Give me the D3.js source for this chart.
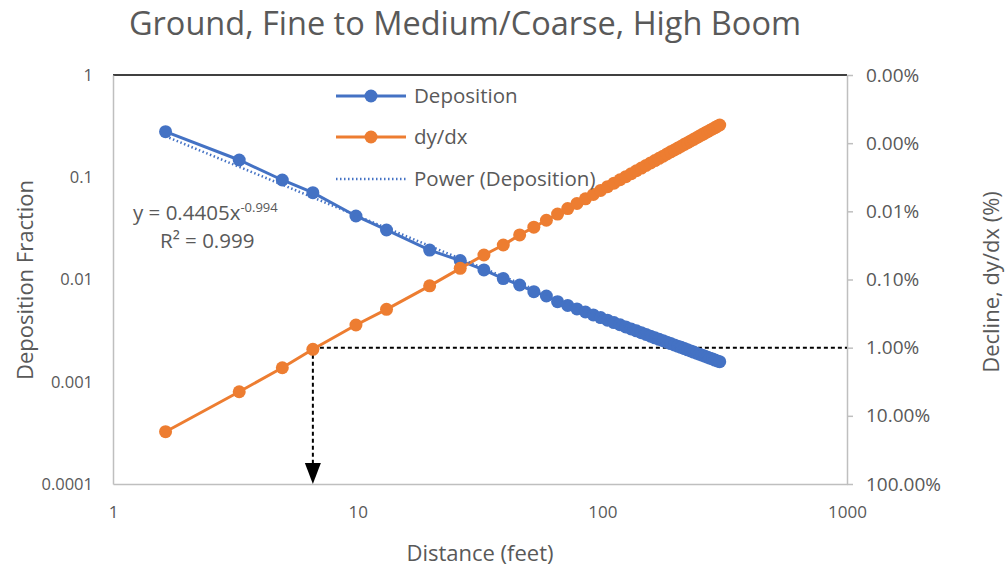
<!DOCTYPE html>
<html>
<head>
<meta charset="utf-8">
<script src="https://cdn.jsdelivr.net/npm/d3@7"></script>
<style>
  html, body { margin: 0; padding: 0; background: #fff; }
  svg { display: block; font-family: "Open Sans", "Noto Sans", sans-serif; }
</style>
</head>
<body>
<svg id="chart" width="1005" height="570"></svg>
<script>
// ---------------- data ----------------
const distance = [1.64, 3.28, 4.92, 6.56, 9.84, 13.12,
  19.69, 26.25, 32.81, 39.37, 45.93, 52.49, 59.06, 65.62, 72.18, 78.74,
  85.30, 91.86, 98.43, 104.99, 111.55, 118.11, 124.67, 131.23, 137.80, 144.36,
  150.92, 157.48, 164.04, 170.60, 177.17, 183.73, 190.29, 196.85, 203.41, 209.97,
  216.54, 223.10, 229.66, 236.22, 242.78, 249.34, 255.91, 262.47, 269.03, 275.59,
  282.15, 288.71, 295.28, 301.84];

const deposition = [0.279, 0.1475, 0.094, 0.0707, 0.0418, 0.0305,
  0.0194, 0.0153, 0.0124, 0.0102, 0.00883, 0.0076, 0.0069, 0.00607, 0.00558, 0.00516,
  0.00481, 0.00450, 0.00424, 0.00400, 0.00379, 0.00361, 0.00344, 0.00328, 0.00315, 0.00302,
  0.00290, 0.00279, 0.00269, 0.00260, 0.00252, 0.00244, 0.00236, 0.00229, 0.00223, 0.00217,
  0.00211, 0.00205, 0.00200, 0.00195, 0.00190, 0.00186, 0.00182, 0.00178, 0.00174, 0.00170,
  0.00167, 0.00163, 0.00160, 0.00157];

const dydx = [0.171, 0.0443, 0.0197, 0.01057, 0.00465, 0.00274,
  0.00124, 0.000686, 0.000437, 0.000312, 0.000222, 0.0001706, 0.0001352, 0.0001098, 0.0000910, 0.0000767,
  0.0000655, 0.0000566, 0.0000494, 0.0000435, 0.0000386, 0.0000344, 0.0000310, 0.0000280, 0.0000254, 0.0000232,
  0.0000212, 0.0000195, 0.0000180, 0.0000167, 0.0000155, 0.0000144, 0.0000134, 0.0000126, 0.0000118, 0.0000111,
  0.0000104, 0.00000982, 0.00000928, 0.00000877, 0.00000831, 0.00000788, 0.00000749, 0.00000712, 0.00000679, 0.00000647,
  0.00000618, 0.00000591, 0.00000565, 0.00000541];

// power trendline of deposition: y = a * x^b
const trendA = 0.4405;
const trendB = -0.994;
const trendR2 = "0.999";

const xTicks = [1, 10, 100, 1000];
const xTickLabels = ["1", "10", "100", "1000"];
const yLeftTicks = [1, 0.1, 0.01, 0.001, 0.0001];
const yLeftTickLabels = ["1", "0.1", "0.01", "0.001", "0.0001"];
const yRightTicks = [1e-6, 1e-5, 1e-4, 1e-3, 1e-2, 1e-1, 1];

// reference (annotation) point: distance & decline
const refDistance = 6.56;
const refDecline = 0.01;

const title = "Ground, Fine to Medium/Coarse, High Boom";
const seriesNames = ["Deposition", "dy/dx", "Power (Deposition)"];

// ---------------- layout ----------------
const BLUE = "#4472C4", ORANGE = "#ED7D31", TXT = "#595959", AXIS = "#BFBFBF";
const L = 113, R = 847, T = 75, B = 484;

const svg = d3.select("#chart");

const x = d3.scaleLog().domain([1, 1000]).range([L, R]);
const yL = d3.scaleLog().domain([1e-4, 1]).range([B, T]);
const yR = d3.scaleLog().domain([1, 1e-6]).range([B, T]);

// title
svg.append("text").attr("x", 465).attr("y", 35)
  .attr("text-anchor", "middle").attr("fill", TXT)
  .attr("font-size", 32.5).text(title);

// top border line
svg.append("line").attr("x1", L).attr("x2", R).attr("y1", T).attr("y2", T)
  .attr("stroke", "#000").attr("stroke-width", 1.3);

// bottom axis
const gx = svg.append("g").attr("transform", `translate(0,${B})`)
  .call(d3.axisBottom(x).tickValues(xTicks)
    .tickFormat(d => xTickLabels[xTicks.indexOf(d)]).tickSize(0).tickPadding(22));
gx.select(".domain").attr("stroke", AXIS).attr("stroke-width", 1.5);
gx.selectAll("text").attr("fill", TXT).attr("font-size", 17).attr("font-family", "Open Sans");

// left axis
const gyl = svg.append("g").attr("transform", `translate(${L},0)`)
  .call(d3.axisLeft(yL).tickValues(yLeftTicks)
    .tickFormat(d => yLeftTickLabels[yLeftTicks.indexOf(d)]).tickSize(0).tickPadding(20));
gyl.select(".domain").attr("stroke", AXIS).attr("stroke-width", 1.5);
gyl.selectAll("text").attr("fill", TXT).attr("font-size", 16.5).attr("font-family", "Open Sans");

// right axis
const gyr = svg.append("g").attr("transform", `translate(${R},0)`)
  .call(d3.axisRight(yR).tickValues(yRightTicks)
    .tickFormat(d3.format(".2%")).tickSize(6).tickSizeOuter(0).tickPadding(13));
gyr.select(".domain").attr("stroke", AXIS).attr("stroke-width", 1.5);
gyr.selectAll(".tick line").attr("stroke", AXIS).attr("stroke-width", 1.5);
gyr.selectAll("text").attr("fill", TXT).attr("font-size", 19).attr("font-family", "Open Sans");

// axis titles
svg.append("text").attr("transform", `translate(33,280) rotate(-90)`)
  .attr("text-anchor", "middle").attr("fill", TXT).attr("font-size", 22)
  .text("Deposition Fraction");
svg.append("text").attr("transform", `translate(999,282) rotate(-90)`)
  .attr("text-anchor", "middle").attr("fill", TXT).attr("font-size", 22)
  .text("Decline, dy/dx (%)");
svg.append("text").attr("x", 480).attr("y", 561)
  .attr("text-anchor", "middle").attr("fill", TXT).attr("font-size", 22)
  .text("Distance (feet)");

// annotation dashed lines
const ax = x(refDistance), ay = yR(refDecline);
svg.append("line").attr("x1", ax).attr("x2", R).attr("y1", ay).attr("y2", ay)
  .attr("stroke", "#000").attr("stroke-width", 2).attr("stroke-dasharray", "4,3");
svg.append("line").attr("x1", ax).attr("x2", ax).attr("y1", ay).attr("y2", B - 18)
  .attr("stroke", "#000").attr("stroke-width", 2).attr("stroke-dasharray", "4,3");
svg.append("path")
  .attr("d", `M${ax - 8},${B - 21} L${ax + 8},${B - 21} L${ax},${B} Z`)
  .attr("fill", "#000");

// series
const depData = distance.map((d, i) => ({ x: d, y: deposition[i] }));
const dyData = distance.map((d, i) => ({ x: d, y: dydx[i] }));

const lineL = d3.line().x(d => x(d.x)).y(d => yL(d.y));
const lineR = d3.line().x(d => x(d.x)).y(d => yR(d.y));

function drawSeries(data, line, yScale, color) {
  svg.append("path").datum(data).attr("d", line)
    .attr("fill", "none").attr("stroke", color).attr("stroke-width", 3);
  svg.append("g").selectAll("circle").data(data).join("circle")
    .attr("cx", d => x(d.x)).attr("cy", d => yScale(d.y)).attr("r", 6.5)
    .attr("fill", color);
}
drawSeries(depData, lineL, yL, BLUE);
drawSeries(dyData, lineR, yR, ORANGE);

// trendline (power)
const xMin = d3.min(distance), xMax = d3.max(distance);
const trendPts = d3.range(0, 21).map(i => {
  const xv = xMin * Math.pow(xMax / xMin, i / 20);
  return { x: xv, y: trendA * Math.pow(xv, trendB) };
});
svg.append("path").datum(trendPts).attr("d", lineL)
  .attr("fill", "none").attr("stroke", BLUE).attr("stroke-width", 2.5)
  .attr("stroke-dasharray", "1.5,2.5").attr("transform", "translate(0,3)");

// trendline equation
const eq = svg.append("text").attr("x", 133).attr("y", 220).attr("fill", TXT).attr("font-size", 20.5);
eq.append("tspan").text("y = " + trendA + "x");
eq.append("tspan").attr("dy", -8).attr("font-size", 13).text(String(trendB));
svg.append("text").attr("x", 160).attr("y", 248).attr("fill", TXT).attr("font-size", 20.5)
  .text("R² = " + trendR2);

// legend
const legend = svg.append("g");
const legendRows = [
  { name: seriesNames[0], color: BLUE, marker: true, dash: null, y: 96 },
  { name: seriesNames[1], color: ORANGE, marker: true, dash: null, y: 137 },
  { name: seriesNames[2], color: BLUE, marker: false, dash: "1.5,2.5", y: 179 }
];
legendRows.forEach(r => {
  legend.append("line").attr("x1", 336).attr("x2", 406).attr("y1", r.y).attr("y2", r.y)
    .attr("stroke", r.color).attr("stroke-width", r.marker ? 3 : 2.5)
    .attr("stroke-dasharray", r.dash);
  if (r.marker) legend.append("circle").attr("cx", 371).attr("cy", r.y).attr("r", 6.5).attr("fill", r.color);
  legend.append("text").attr("x", 414).attr("y", r.y + 7).attr("fill", TXT).attr("font-size", 20.5).text(r.name);
});
</script>
</body>
</html>
